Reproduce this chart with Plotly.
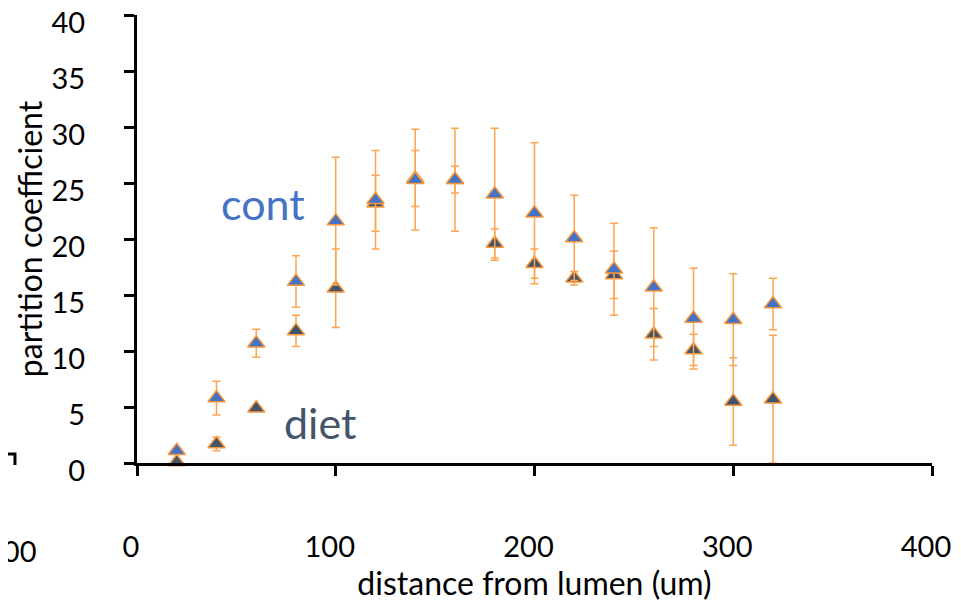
import plotly.graph_objects as go

# distance from lumen (um)
distance = [20, 40, 60, 80, 100, 120, 140, 160, 180, 200, 220, 240, 260, 280, 300, 320]

# partition coefficient, control
cont = [1.1, 5.8, 10.7, 16.2, 21.6, 23.5, 25.3, 25.3, 24.0, 22.3, 20.1, 17.3, 15.7, 12.9, 12.8, 14.2]
cont_err = [0.3, 1.5, 1.25, 2.3, 5.7, 4.4, 4.5, 4.6, 5.9, 6.3, 3.8, 4.1, 5.3, 4.5, 4.1, 2.3]

# partition coefficient, diet
diet = [0.1, 1.7, 4.9, 11.8, 15.6, 23.2, 25.4, 25.3, 19.6, 17.8, 16.5, 16.8, 11.5, 10.1, 5.5, 5.7]
diet_err = [0.25, 0.6, 0.2, 1.4, 3.5, 2.5, 2.5, 1.2, 1.3, 1.3, 0.6, 2.1, 2.3, 1.4, 3.9, 5.7]

x_ticks = [0, 100, 200, 300, 400]
y_ticks = [0, 5, 10, 15, 20, 25, 30, 35, 40]

FONT = "Lato"
ORANGE = "#F7963C"
ERR = "#FFA54F"
TICK_SIZE = 29
TITLE_SIZE = 32

fig = go.Figure()
fig.add_trace(go.Scatter(
    x=distance, y=diet, mode="markers", name="diet",
    marker=dict(symbol="triangle-up", size=15, color="#44546A",
                line=dict(color=ORANGE, width=1.5)),
    error_y=dict(type="data", array=diet_err, color=ERR, thickness=1.5, width=4),
    cliponaxis=False,
))
fig.add_trace(go.Scatter(
    x=distance, y=cont, mode="markers", name="cont",
    marker=dict(symbol="triangle-up", size=15, color="#4472C4",
                line=dict(color=ORANGE, width=1.5)),
    error_y=dict(type="data", array=cont_err, color=ERR, thickness=1.5, width=4),
    cliponaxis=False,
))

fig.add_annotation(x=63.4, y=23.2, xref="x", yref="y", text="cont", showarrow=False,
                   font=dict(family=FONT, size=43, color="#4472C4"))
fig.add_annotation(x=92, y=3.6, xref="x", yref="y", text="diet", showarrow=False,
                   font=dict(family=FONT, size=43, color="#44546A"))

# stray fragments of a neighbouring chart at the left edge
fig.add_annotation(x=-0.1245, y=0.041, xref="paper", yref="paper",
                   xanchor="right", yanchor="middle",
                   text="400", showarrow=False,
                   font=dict(family=FONT, size=TICK_SIZE, color="black"))
fig.add_shape(type="path", xref="paper", yref="paper",
              path="M -0.175 0.2133 L -0.1535 0.2133 L -0.1535 0.1935",
              line=dict(color="black", width=3))

# page body has an 8px margin, so the figure is 8px smaller than the window
fig.update_layout(
    width=953, height=595,
    margin=dict(l=129, r=29, t=7, b=30, autoexpand=False),
    paper_bgcolor="white", plot_bgcolor="white",
    showlegend=False,
    font=dict(family=FONT, size=TICK_SIZE, color="black"),
    # axis line with tick marks, crossing at y = 0
    xaxis=dict(
        range=[0, 400], tickvals=x_ticks, showticklabels=False,
        showgrid=False, zeroline=False, automargin=False,
        showline=True, linecolor="black", linewidth=3,
        ticks="outside", ticklen=10, tickwidth=3, tickcolor="black",
    ),
    # low-positioned tick labels and title of the same axis
    xaxis2=dict(
        matches="x", range=[0, 400], overlaying="x", anchor="free", position=0.0824,
        tickvals=x_ticks, ticktext=[str(v) for v in x_ticks],
        showgrid=False, zeroline=False, showline=False, ticks="", automargin=False,
        ticklabelshift=-6, ticklabeloverflow="allow",
        tickfont=dict(family=FONT, size=TICK_SIZE),
        title=dict(text="distance from lumen (um)", standoff=5,
                   font=dict(family=FONT, size=TITLE_SIZE)),
    ),
    yaxis=dict(
        domain=[0.197, 1.0],
        range=[0, 40], tickvals=y_ticks, ticktext=[str(v) for v in y_ticks],
        showgrid=False, zeroline=False, automargin=False,
        showline=True, linecolor="black", linewidth=3,
        ticks="outside", ticklen=10, tickwidth=3, tickcolor="black",
        ticklabelstandoff=33, ticklabelshift=8, ticklabeloverflow="allow",
        title=dict(text="partition coefficient", standoff=0,
                   font=dict(family=FONT, size=TITLE_SIZE)),
        tickfont=dict(family=FONT, size=TICK_SIZE),
    ),
)

# invisible carrier so the label axis is drawn
fig.add_trace(go.Scatter(x=[0, 400], y=[None, None], xaxis="x2", yaxis="y",
                         mode="markers", showlegend=False, hoverinfo="skip"))

fig.write_html("out.html")
